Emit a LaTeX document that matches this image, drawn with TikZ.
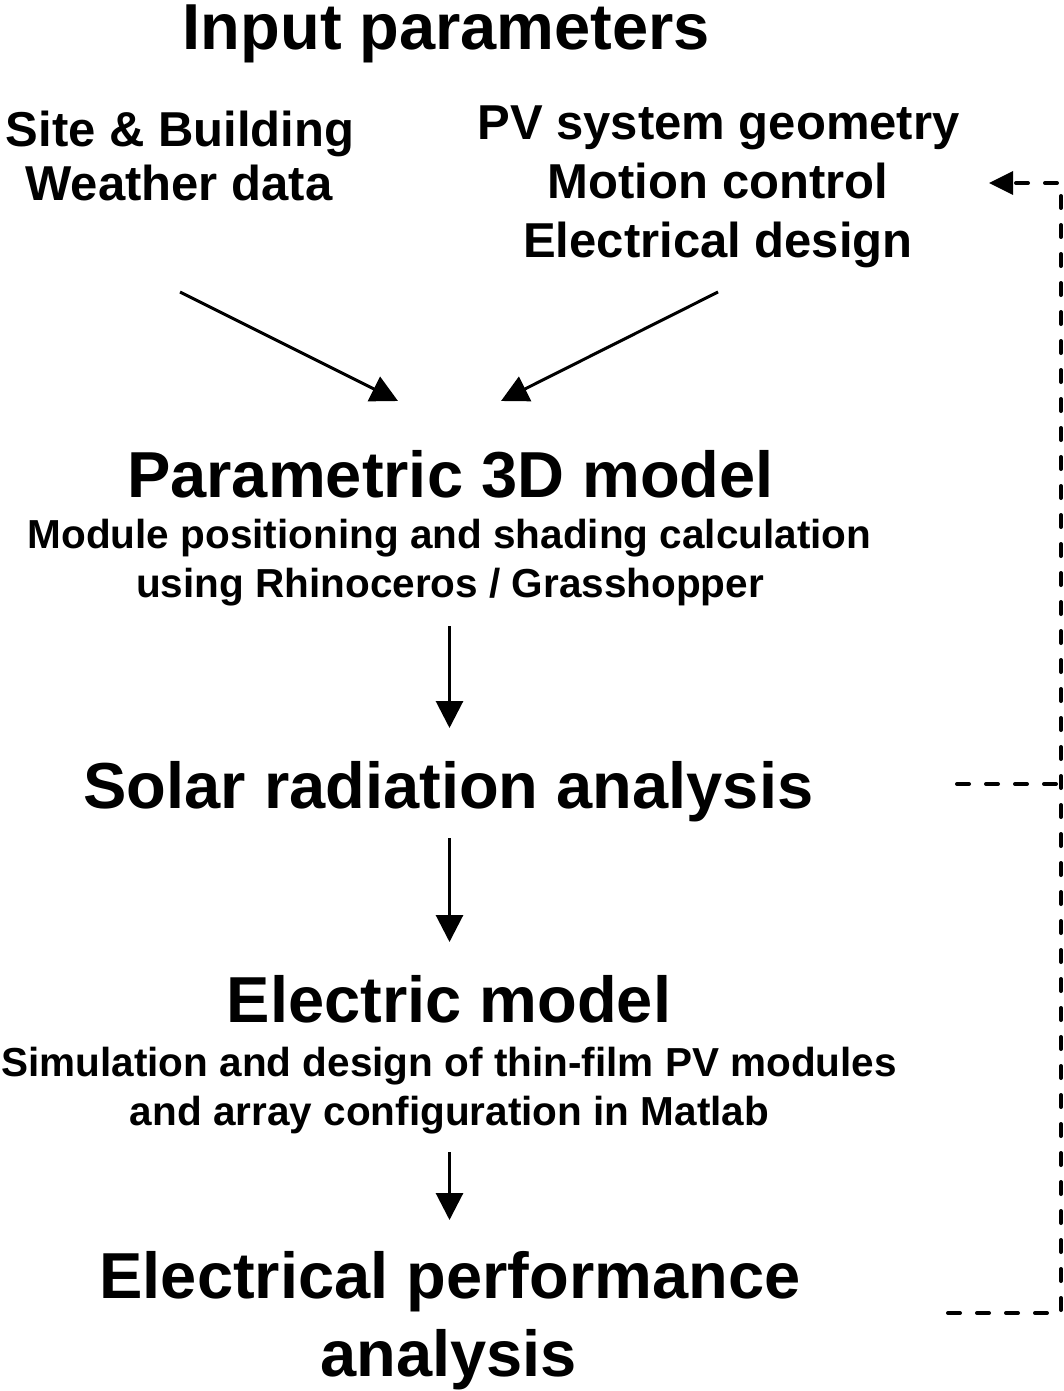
\documentclass[tikz,border=0pt]{standalone}
\usepackage{fontspec}
\setmainfont{Liberation Sans}
\usetikzlibrary{arrows.meta}
\tikzset{
  big/.style={anchor=base,inner sep=0pt,font=\bfseries\fontsize{32.5}{39}\selectfont},
  mid/.style={anchor=base,inner sep=0pt,font=\bfseries\fontsize{24.5}{29}\selectfont},
  small/.style={anchor=base,inner sep=0pt,font=\bfseries\fontsize{20.25}{24}\selectfont},
  flow/.style={line width=1.5pt,-{Triangle[length=13.5pt,width=13.5pt]}},
  loopback/.style={line width=2pt,line cap=round,dash pattern=on 6pt off 8.5pt}
}
\begin{document}
\begin{tikzpicture}[x=0.5pt,y=-0.5pt]
\useasboundingbox (0,0) rectangle (1064,1391);
\node[big] (input) at (446.5,50) {Input parameters};
\node[mid] (site) at (180,147) {Site \& Building};
\node[mid] (weather) at (179,201) {Weather data};
\node[mid] (pvgeom) at (718.5,140) {PV system geometry};
\node[mid] (motion) at (718,198.5) {Motion control};
\node[mid] (elecdesign) at (718,257) {Electrical design};
\node[big] (model3d) at (450.5,497) {Parametric 3D model};
\node[small] (modelsub) at (449.5,548) {Module positioning and shading calculation};
\node[small] (modelsubb) at (450,597) {using Rhinoceros / Grasshopper};
\node[big] (solar) at (448.5,808) {Solar radiation analysis};
\node[big] (electric) at (449,1022) {Electric model};
\node[small] (elecsub) at (449,1076) {Simulation and design of thin-film PV modules};
\node[small] (elecsubb) at (449.5,1125) {and array configuration in Matlab};
\node[big] (perf) at (450,1298) {Electrical performance};
\node[big] (perfb) at (448.5,1376) {analysis};
% arrow ends
\coordinate (l0) at (180,292); \coordinate (l1) at (398,401);
\coordinate (r0) at (718,292); \coordinate (r1) at (501,401);
\coordinate (a0) at (449.5,626); \coordinate (a1) at (449.5,728);
\coordinate (b0) at (449.5,838); \coordinate (b1) at (449.5,942);
\coordinate (c0) at (449.5,1152); \coordinate (c1) at (449.5,1220);
\draw[flow] (l0)--(l1);
\draw[flow] (r0)--(r1);
\draw[flow] (a0)--(a1);
\draw[flow] (b0)--(b1);
\draw[flow] (c0)--(c1);
% feedback
\coordinate (fbtop) at (1061,183); \coordinate (fbtip) at (989,183);
\coordinate (fbsolar) at (957,784); \coordinate (fbperf) at (948,1313);
\draw[loopback] (fbperf)--(1061,1313)--(fbtop)--(1016,183);
\draw[loopback] (fbsolar)--(1061,784);
\fill (fbtip)--(1013,171)--(1013,195)--cycle;
\end{tikzpicture}
\end{document}
